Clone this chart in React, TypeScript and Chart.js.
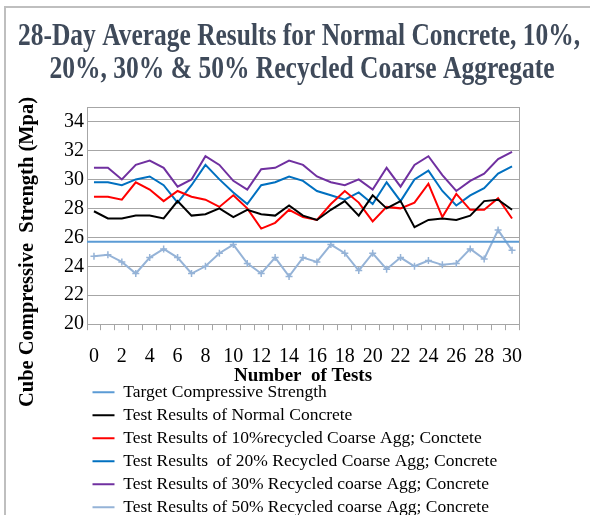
import React, { useEffect, useRef } from 'react';
import { Chart, registerables } from 'chart.js';

Chart.register(...registerables);

const TITLE_LINES = ['28-Day Average Results for Normal Concrete, 10%,', '20%, 30% & 50% Recycled Coarse Aggregate'];
const Y_TITLE = 'Cube Compressive  Strength (Mpa)';
const X_TITLE = 'Number  of Tests';

const X_LABELS = ['0', '1', '2', '3', '4', '5', '6', '7', '8', '9', '10', '11', '12', '13', '14', '15', '16', '17', '18', '19', '20', '21', '22', '23', '24', '25', '26', '27', '28', '29', '30'];
const Y_TICKS = [20, 22, 24, 26, 28, 30, 32, 34];
const Y_MIN = 20;
const Y_MAX = 35;

const TARGET = 25.7;
const NORMAL = [27.8, 27.3, 27.3, 27.5, 27.5, 27.3, 28.5, 27.5, 27.6, 28.0, 27.4, 27.9, 27.6, 27.5, 28.2, 27.5, 27.2, 27.9, 28.5, 27.5, 28.9, 28.0, 28.5, 26.7, 27.2, 27.3, 27.2, 27.5, 28.5, 28.6, 27.9];
const RCA10 = [28.8, 28.8, 28.6, 29.8, 29.3, 28.5, 29.2, 28.8, 28.6, 28.1, 28.9, 28.0, 26.6, 27.0, 27.9, 27.4, 27.2, 28.3, 29.2, 28.4, 27.1, 28.1, 28.0, 28.4, 29.7, 27.4, 29.0, 27.9, 27.9, 28.7, 27.3];
const RCA20 = [29.8, 29.8, 29.6, 30.0, 30.2, 29.6, 28.4, 29.6, 31.0, 30.0, 29.1, 28.3, 29.6, 29.8, 30.2, 29.9, 29.2, 28.9, 28.6, 29.1, 28.3, 29.8, 28.5, 30.0, 30.6, 29.2, 28.2, 28.9, 29.4, 30.4, 30.9];
const RCA30 = [30.8, 30.8, 30.0, 31.0, 31.3, 30.8, 29.5, 30.0, 31.6, 31.0, 29.9, 29.3, 30.7, 30.8, 31.3, 31.0, 30.2, 29.8, 29.6, 30.0, 29.3, 30.8, 29.5, 31.0, 31.6, 30.3, 29.2, 29.9, 30.4, 31.4, 31.9];
const RCA50 = [24.7, 24.8, 24.3, 23.5, 24.6, 25.2, 24.6, 23.5, 24.0, 24.9, 25.5, 24.2, 23.5, 24.6, 23.3, 24.6, 24.3, 25.5, 24.9, 23.7, 24.9, 23.8, 24.6, 24.0, 24.4, 24.1, 24.2, 25.2, 24.5, 26.5, 25.1];

const SERIES_NAMES = [
  'Target Compressive Strength',
  'Test Results of Normal Concrete',
  'Test Results of 10%recycled Coarse Agg; Conctete',
  'Test Results  of 20% Recycled Coarse Agg; Concrete',
  'Test Results of 30% Recycled coarse Agg; Concrete',
  'Test Results of 50% Recycled coarse Agg; Concrete',
];
const COLORS = ['#5B9BD5', '#000000', '#FF0000', '#0070C0', '#7030A0', '#95B3D7'];

const SERIF = "'Liberation Serif', 'Times New Roman', serif";
const GRID = '#A6A6A6';

const decorPlugin = {
  id: 'decor',
  beforeDatasetsDraw(chart: any) {
    const { ctx, chartArea } = chart;
    ctx.save();
    ctx.strokeStyle = GRID;
    ctx.lineWidth = 1;
    ctx.strokeRect(Math.round(chartArea.left) + 0.5, Math.round(chartArea.top) + 0.5, Math.round(chartArea.right - chartArea.left), Math.round(chartArea.bottom - chartArea.top));
    ctx.restore();
  },
  afterDraw(chart: any) {
    const { ctx } = chart;
    ctx.save();
    ctx.strokeStyle = '#BFBFBF';
    ctx.lineWidth = 2;
    ctx.beginPath();
    ctx.moveTo(5, 515);
    ctx.lineTo(5, 7);
    ctx.lineTo(590, 7);
    ctx.stroke();

    // chart title, two centred lines
    ctx.font = `bold 32px ${SERIF}`;
    ctx.fillStyle = '#3F4A5A';
    ctx.textAlign = 'center';
    ctx.textBaseline = 'middle';
    ctx.fillText(TITLE_LINES[0], 299, 37, 562);
    ctx.fillText(TITLE_LINES[1], 302, 70, 505);

    // y-axis title
    ctx.translate(28, 252);
    ctx.rotate(-Math.PI / 2);
    ctx.font = `bold 20.5px ${SERIF}`;
    ctx.fillStyle = '#000000';
    ctx.fillText(Y_TITLE, 0, 0);
    ctx.restore();
  },
};

export default function App() {
  const ref = useRef<HTMLCanvasElement | null>(null);

  useEffect(() => {
    document.body.style.margin = '0';
    const canvas = ref.current;
    if (!canvas) return;
    const series = [NORMAL, RCA10, RCA20, RCA30, RCA50];
    const datasets: any[] = [
      {
        label: SERIES_NAMES[0],
        data: [{ x: 0, y: TARGET }, { x: 1, y: TARGET }],
        xAxisID: 'xt',
        yAxisID: 'y',
        borderColor: COLORS[0],
        backgroundColor: COLORS[0],
        borderWidth: 2,
        pointRadius: 0,
        fill: false,
      },
      ...series.map((d, i) => ({
        label: SERIES_NAMES[i + 1],
        data: d,
        xAxisID: 'x',
        yAxisID: 'y',
        borderColor: COLORS[i + 1],
        backgroundColor: COLORS[i + 1],
        borderWidth: 2,
        pointRadius: i === 4 ? 3.5 : 0,
        pointStyle: 'cross',
        pointBorderColor: COLORS[i + 1],
        pointBorderWidth: 1.5,
        tension: 0,
        fill: false,
      })),
    ];

    const chart = new Chart(canvas, {
      type: 'line',
      data: { labels: X_LABELS, datasets },
      plugins: [decorPlugin],
      options: {
        responsive: false,
        animation: false,
        devicePixelRatio: 1,
        layout: { padding: { left: 18, right: 10, top: 107, bottom: 0 } },
        plugins: {
          title: { display: false },
          legend: {
            display: true,
            position: 'bottom',
            align: 'start',
            fullSize: false,
            maxHeight: 137,
            labels: {
              color: '#000000',
              font: { family: SERIF, size: 17.5 },
              boxWidth: 22,
              boxHeight: 2,
              padding: 5.5,
              generateLabels: (c: any) =>
                (Chart.defaults.plugins.legend.labels as any).generateLabels(c).map((l: any) => ({ ...l, lineWidth: 0, fillStyle: l.strokeStyle })),
            },
          },
          tooltip: { enabled: false },
        },
        scales: {
          x: {
            type: 'category',
            offset: true,
            grid: { display: true, drawOnChartArea: false, drawTicks: true, tickLength: 6, color: GRID, offset: true },
            border: { display: true, color: GRID },
            ticks: {
              autoSkip: false,
              maxRotation: 0,
              minRotation: 0,
              padding: 15,
              color: '#000000',
              font: { family: SERIF, size: 20 },
              callback: (_v: any, i: number) => (i % 2 === 0 ? X_LABELS[i] : ''),
            },
            title: {
              display: true,
              text: X_TITLE,
              color: '#000000',
              font: { family: SERIF, size: 19, weight: 'bold' },
              padding: { top: -20, bottom: -9 },
            },
          },
          xt: {
            type: 'linear',
            display: false,
            min: 0,
            max: 1,
            offset: false,
          },
          y: {
            type: 'linear',
            position: 'left',
            min: Y_MIN,
            max: Y_MAX,
            afterBuildTicks: (scale: any) => {
              scale.ticks = Y_TICKS.map((v) => ({ value: v }));
            },
            afterFit: (scale: any) => {
              scale.width = 69;
            },
            grid: { color: GRID, drawTicks: false },
            border: { display: true, color: GRID },
            ticks: {
              padding: 3,
              color: '#000000',
              font: { family: SERIF, size: 20 },
            },
          },
          yr: {
            type: 'linear',
            position: 'right',
            display: true,
            afterFit: (scale: any) => {
              scale.width = 61;
            },
            grid: { display: false },
            border: { display: false },
            ticks: { display: false },
          },
        },
      } as any,
    });
    return () => chart.destroy();
  }, []);

  return (
    <div style={{ width: 590, height: 515, position: 'relative' }}>
      <canvas ref={ref} width={590} height={515} />
    </div>
  );
}
